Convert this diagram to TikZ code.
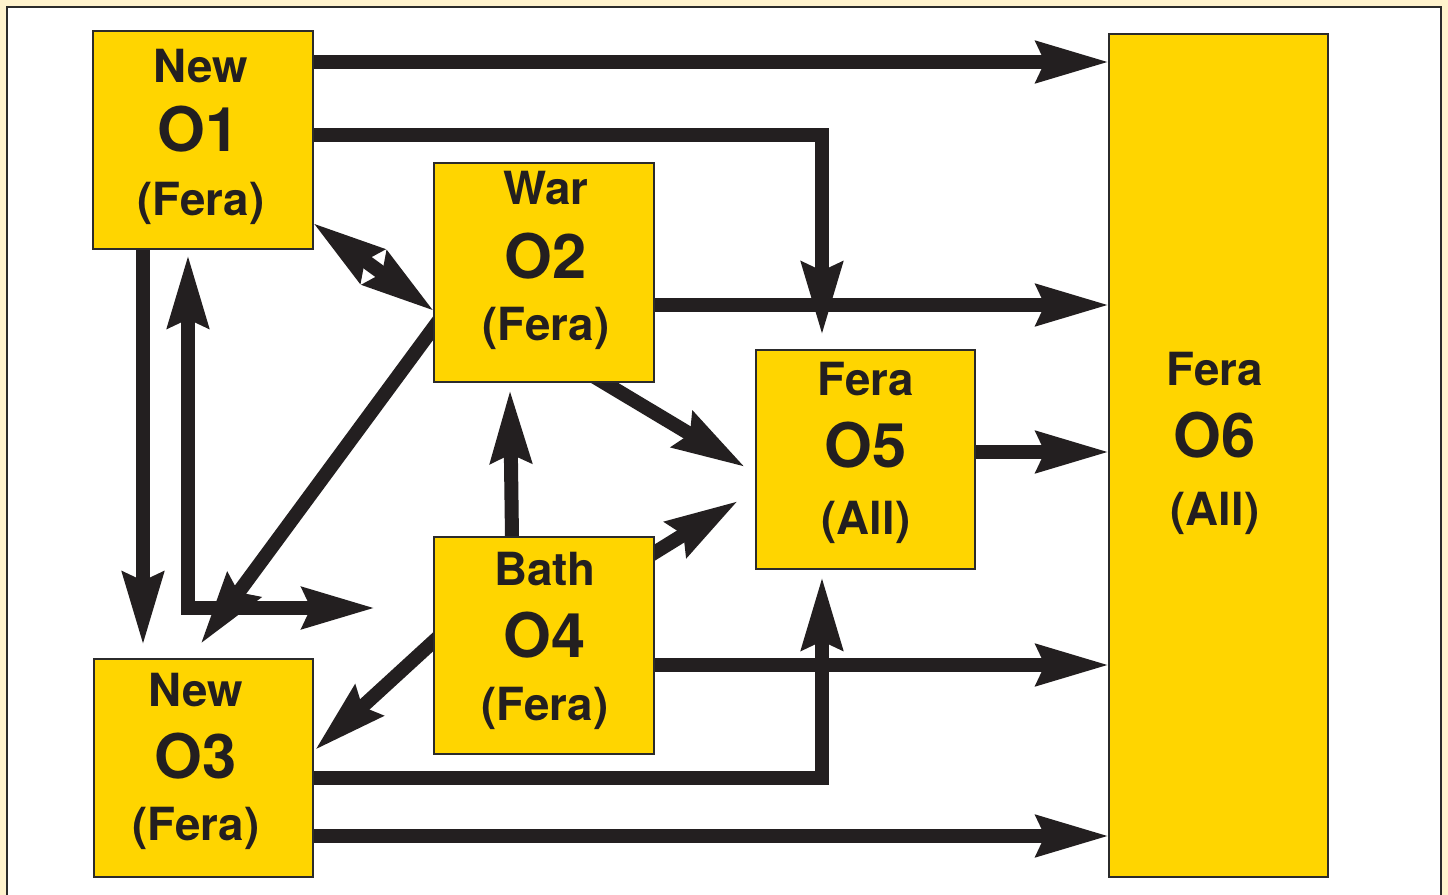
\documentclass[tikz,border=0pt]{standalone}
\usepackage{fontspec}
\setmainfont{TeX Gyre Heros}
\usetikzlibrary{arrows.meta,calc}
\definecolor{ink}{HTML}{231F20}
\definecolor{gold}{HTML}{FFD500}
\definecolor{cream}{HTML}{FFF3CD}
\definecolor{edge}{HTML}{2B2B2B}
\pgfdeclarelayer{back}
\pgfdeclarelayer{mid}
\pgfsetlayers{back,mid,main}

\begin{document}
\begin{tikzpicture}[x=0.02cm,y=-0.02cm,
  box/.style={draw=edge, line width=0.04cm, fill=gold, inner sep=0, outer sep=0},
  small/.style={anchor=base, text=ink, font=\bfseries\fontsize{26}{30}\selectfont, inner sep=0},
  big/.style={anchor=base, text=ink, font=\bfseries\fontsize{35}{40}\selectfont, inner sep=0},
  bighead/.tip={Stealth[length=1.44cm,width=0.8cm,inset=0.16cm]},
  arr/.style={draw=ink, line width=0.28cm, -bighead},
  dbl/.style={draw=ink, line width=0.28cm, bighead-bighead},
]
\useasboundingbox (0,0) rectangle (1448,895);
\clip (0,0) rectangle (1448,895);

% boxes
\node[box, minimum width=4.4cm,  minimum height=4.36cm]  (o1) at (203,140) {};
\node[box, minimum width=4.4cm,  minimum height=4.38cm]  (o2) at (544,272.5) {};
\node[box, minimum width=4.38cm, minimum height=4.36cm]  (o3) at (203.5,768) {};
\node[box, minimum width=4.4cm,  minimum height=4.34cm]  (o4) at (544,645.5) {};
\node[box, minimum width=4.38cm, minimum height=4.38cm]  (o5) at (865.5,459.5) {};
\node[box, minimum width=4.38cm, minimum height=16.86cm] (o6) at (1218.5,455.5) {};

% labels
\node[small] (o1a) at (201,83)  {New};
\node[big]   (o1b) at (199,152) {O1};
\node[small] (o1c) at (201,216) {(Fera)};
\node[small] (o2a) at (546,205) {War};
\node[big]   (o2b) at (546,279) {O2};
\node[small] (o2c) at (546,341) {(Fera)};
\node[small] (o3a) at (196,706) {New};
\node[big]   (o3b) at (196,778) {O3};
\node[small] (o3c) at (196,840) {(Fera)};
\node[small] (o4a) at (545,585) {Bath};
\node[big]   (o4b) at (545,657) {O4};
\node[small] (o4c) at (545,720) {(Fera)};
\node[small] (o5a) at (866,396) {Fera};
\node[big]   (o5b) at (866,467) {O5};
\node[small] (o5c) at (866,534) {(All)};
\node[small] (o6a) at (1215,386) {Fera};
\node[big]   (o6b) at (1215,458) {O6};
\node[small] (o6c) at (1215,525) {(All)};

% frame
\begin{pgfonlayer}{back}
  \fill[cream] (0,0) rectangle (1448,895);
  \draw[edge, line width=0.05cm, fill=white] (7,7) rectangle (1441,920);
\end{pgfonlayer}

% connectors
\begin{pgfonlayer}{mid}
  \draw[arr] (o1.east |- 0,62) -- (o6.west |- 0,62);
  \draw[arr] (o1.east |- 0,135) -| ($(o5.north)+(-43.5,-15)$);
  \draw[arr] (o2.east |- 0,305) -- (o6.west |- 0,305);
  \draw[arr] (o5.east |- 0,452) -- (o6.west |- 0,452);
  \draw[arr] (o4.east |- 0,665) -- (o6.west |- 0,665);
  \draw[arr] (o3.east |- 0,836) -- (o6.west |- 0,836);
  \draw[arr] (o3.east |- 0,778) -| ($(o5.south)+(-43.5,8)$);
  \draw[dbl] (o1.east |- 0,223) -- (o2.west |- 0,311);
  \draw[arr] (o1.south -| 143,0) -- ($(o3.north -| 143,0)+(0,-14)$);
  \coordinate (jr) at (375,608);
  \draw[dbl] ($(o1.south -| 188,0)+(0,6)$) |- (jr);
  \draw[arr, shorten <=-0.3cm] (o2.west |- 0,327) -- ($(o3.north)+(-3,-15)$);
  \draw[arr] (o4.north -| 512,0) -- ($(o2.south -| 510,0)+(0,8)$);
  \draw[arr, shorten <=-0.3cm] (o2.south -| 603,0) -- ($(o5.west |- 0,467)+(-11,0)$);
  \draw[arr, shorten <=-0.3cm] (o4.east |- 0,553) -- ($(o5.west |- 0,501)+(-18,0)$);
  \draw[arr, shorten <=-0.3cm] (o4.west |- 0,641) -- ($(o3.east |- 0,750)+(2,0)$);
\end{pgfonlayer}
\end{tikzpicture}
\end{document}
